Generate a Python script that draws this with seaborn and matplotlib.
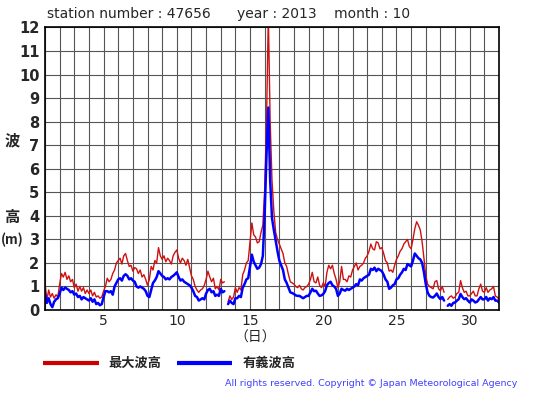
import numpy as np
import pandas as pd
import matplotlib
matplotlib.use("Agg")
import matplotlib.pyplot as plt
import seaborn as sns

nan = np.nan
# 3-hourly samples, 8 per day, day 1.0 .. 31.875, plus final point at 32.0
max_wave = [
    1.15, 0.40, 0.85, 0.55, 0.70, 0.50, 0.65, 0.55,   # 1
    1.10, 1.55, 1.40, 1.60, 1.30, 1.45, 1.20, 1.30,   # 2
    0.95, 1.10, 0.80, 1.00, 0.80, 0.95, 0.70, 0.85,   # 3
    0.70, 0.85, 0.60, 0.75, 0.55, 0.60, 0.50, 0.55,   # 4
    0.80, 1.00, 1.35, 1.20, 1.30, 1.55, 1.70, 2.00,   # 5
    2.10, 2.20, 1.95, 2.30, 2.40, 2.10, 1.85, 1.90,   # 6
    1.65, 1.80, 1.75, 1.55, 1.70, 1.40, 1.50, 1.30,   # 7
    1.05, 1.30, 1.85, 1.70, 2.10, 2.00, 2.65, 2.30,   # 8
    2.15, 2.30, 2.05, 2.20, 2.10, 1.95, 2.30, 2.45,   # 9
    2.55, 2.20, 2.00, 2.20, 2.10, 1.90, 2.15, 1.80,   # 10
    1.45, 1.30, 1.00, 0.85, 0.75, 0.85, 0.90, 1.05,   # 11
    1.30, 1.65, 1.40, 1.20, 1.35, 0.90, 1.00, 0.85,   # 12
    1.30, 1.15, 1.20, nan, 0.35, 0.60, 0.45, 0.55,    # 13
    0.95, 0.75, 0.95, 0.85, 1.50, 1.70, 2.00, 2.10,   # 14
    2.90, 3.70, 3.20, 3.10, 2.85, 2.90, 3.30, 3.60,   # 15
    5.10, 8.00, 12.5, 8.00, 5.50, 4.20, 3.30, 3.00,   # 16
    2.80, 2.60, 2.40, 2.00, 1.85, 1.50, 1.20, 1.15,   # 17
    1.10, 1.00, 0.95, 1.05, 0.90, 0.85, 0.95, 1.00,   # 18
    1.10, 1.30, 1.60, 1.20, 1.15, 1.40, 1.05, 0.95,   # 19
    1.15, 1.00, 1.60, 1.90, 1.75, 1.90, 1.55, 1.30,   # 20
    0.95, 1.20, 1.85, 1.30, 1.30, 1.20, 1.45, 1.40,   # 21
    1.70, 1.85, 2.00, 1.70, 1.85, 1.90, 2.00, 2.20,   # 22
    2.30, 2.50, 2.80, 2.60, 2.55, 2.90, 2.85, 2.60,   # 23
    2.65, 2.40, 2.10, 2.00, 1.65, 1.70, 1.60, 1.90,   # 24
    2.15, 2.30, 2.50, 2.60, 2.80, 2.90, 3.00, 2.70,   # 25
    2.60, 3.00, 3.45, 3.75, 3.60, 3.40, 2.90, 2.20,   # 26
    1.45, 1.10, 1.00, 0.95, 0.90, 1.20, 1.25, 0.90,   # 27
    0.82, 1.00, 0.75, nan, 0.45, 0.55, 0.60, 0.50,    # 28
    0.55, 0.70, 0.75, 1.25, 0.95, 0.75, 0.80, 0.60,   # 29
    0.60, 0.70, 0.80, 0.60, 0.60, 0.90, 1.10, 0.80,   # 30
    0.75, 0.95, 0.75, 0.85, 0.90, 1.00, 0.60, 0.55,   # 31
    0.45,
]
sig_wave = [
    0.72, 0.30, 0.50, 0.25, 0.12, 0.35, 0.45, 0.50,   # 1
    0.70, 0.95, 0.85, 0.95, 0.90, 0.85, 0.75, 0.80,   # 2
    0.65, 0.70, 0.55, 0.60, 0.45, 0.55, 0.50, 0.45,   # 3
    0.40, 0.50, 0.35, 0.45, 0.25, 0.30, 0.20, 0.25,   # 4
    0.55, 0.80, 0.80, 0.75, 0.80, 0.65, 1.00, 1.15,   # 5
    1.30, 1.35, 1.25, 1.45, 1.52, 1.45, 1.30, 1.35,   # 6
    1.25, 1.20, 1.00, 0.95, 1.00, 0.95, 0.90, 0.80,   # 7
    0.60, 0.55, 0.85, 1.15, 1.25, 1.40, 1.65, 1.55,   # 8
    1.45, 1.40, 1.30, 1.35, 1.30, 1.40, 1.45, 1.52,   # 9
    1.60, 1.40, 1.25, 1.30, 1.20, 1.15, 1.10, 1.05,   # 10
    0.95, 0.80, 0.60, 0.55, 0.40, 0.45, 0.50, 0.45,   # 11
    0.70, 0.85, 0.90, 0.75, 0.80, 0.60, 0.65, 0.60,   # 12
    0.90, 0.75, 0.80, nan, 0.25, 0.40, 0.30, 0.25,    # 13
    0.50, 0.50, 0.60, 0.55, 0.95, 1.10, 1.30, 1.35,   # 14
    1.85, 2.35, 2.05, 1.90, 1.75, 1.80, 1.95, 2.30,   # 15
    4.10, 6.60, 8.60, 5.50, 3.90, 3.40, 2.95, 2.50,   # 16
    2.10, 1.90, 1.70, 1.30, 1.15, 0.95, 0.75, 0.72,   # 17
    0.68, 0.62, 0.60, 0.60, 0.55, 0.50, 0.55, 0.60,   # 18
    0.60, 0.75, 0.90, 0.80, 0.82, 0.70, 0.60, 0.62,   # 19
    0.68, 0.80, 1.05, 1.15, 1.20, 1.05, 1.00, 0.90,   # 20
    0.60, 0.70, 0.90, 0.85, 0.82, 0.90, 0.85, 0.90,   # 21
    0.95, 1.00, 1.10, 1.05, 1.30, 1.25, 1.35, 1.40,   # 22
    1.45, 1.50, 1.75, 1.70, 1.80, 1.65, 1.75, 1.70,   # 23
    1.65, 1.50, 1.30, 1.20, 0.90, 0.95, 1.05, 1.10,   # 24
    1.30, 1.35, 1.50, 1.60, 1.75, 1.70, 1.95, 1.90,   # 25
    1.85, 2.10, 2.40, 2.30, 2.20, 2.15, 2.00, 1.60,   # 26
    1.10, 0.75, 0.60, 0.55, 0.53, 0.60, 0.70, 0.55,   # 27
    0.46, 0.55, 0.40, nan, 0.18, 0.25, 0.18, 0.30,    # 28
    0.32, 0.40, 0.46, 0.68, 0.55, 0.46, 0.50, 0.40,   # 29
    0.32, 0.45, 0.40, 0.32, 0.35, 0.45, 0.55, 0.45,   # 30
    0.46, 0.55, 0.40, 0.50, 0.46, 0.55, 0.40, 0.40,   # 31
    0.32,
]
x_ticks = [5, 10, 15, 20, 25, 30]
y_ticks = list(range(0, 13))
title_text = "station number : 47656      year : 2013    month : 10"
legend_labels = ["最大波高", "有義波高"]

days = 1 + np.arange(len(max_wave)) / 8.0

def make_df(vals):
    v = np.array(vals, dtype=float)
    seg = np.cumsum(np.isnan(v))
    df = pd.DataFrame({"day": days, "h": v, "seg": seg})
    return df.dropna()

sns.set_theme(style="white")
plt.rcParams['font.family'] = ['DejaVu Sans']

fig = plt.figure(figsize=(5.55, 3.95), dpi=100)
ax = fig.add_axes([45/555, 1-310/395, 454/555, 282.5/395])

sns.lineplot(data=make_df(max_wave), x="day", y="h", units="seg", estimator=None,
             color="#d01010", lw=1.0, ax=ax)
sns.lineplot(data=make_df(sig_wave), x="day", y="h", units="seg", estimator=None,
             color="#0000ff", lw=1.8, ax=ax)

ax.set_xlim(1, 32)
ax.set_ylim(0, 12)
ax.set_xticks(np.arange(1, 33), minor=True)
ax.set_xticks(x_ticks)
ax.set_yticks(y_ticks)
ax.grid(True, which="both", axis="x", color="#555555", lw=0.8)
ax.grid(True, which="major", axis="y", color="#555555", lw=0.8)
ax.set_axisbelow(True)
ax.tick_params(axis="both", which="both", length=0)
ax.tick_params(axis="x", pad=3, labelsize=10)
ax.tick_params(axis="y", pad=4, labelsize=10.5)
for lab in ax.get_yticklabels():
    lab.set_fontweight("bold")
ax.set_xlabel("")
ax.set_ylabel("")
for s in ax.spines.values():
    s.set_color("black")
    s.set_linewidth(1.2)

fig.text(47/555, 1-14/395, title_text, fontsize=10, va="center", ha="left")

jp = ['Noto Sans CJK JP', 'DejaVu Sans']
fig.text(12/555, 1-140/395, "波", fontsize=11, fontweight="bold", family=jp, ha="center", va="center")
fig.text(12/555, 1-217/395, "高", fontsize=11, fontweight="bold", family=jp, ha="center", va="center")
fig.text(12/555, 1-240/395, "(m)", fontsize=9.5, fontweight="bold", family=jp, ha="center", va="center")
fig.text(255/555, 1-338/395, "（日）", fontsize=10, family=jp, ha="center", va="center")

# legend
fig.add_artist(plt.Line2D([43/555, 99/555], [1-363/395]*2, color="#cc0000", lw=3,
                          solid_capstyle="butt", transform=fig.transFigure))
fig.text(108/555, 1-363/395, legend_labels[0], fontsize=9.5, fontweight="bold", family=jp, va="center", ha="left")
fig.add_artist(plt.Line2D([177/555, 232/555], [1-363/395]*2, color="#0000ff", lw=3,
                          solid_capstyle="butt", transform=fig.transFigure))
fig.text(243/555, 1-363/395, legend_labels[1], fontsize=9.5, fontweight="bold", family=jp, va="center", ha="left")

fig.text(517/555, 1-384/395, "All rights reserved. Copyright © Japan Meteorological Agency",
         fontsize=6.8, color="#4040ff", ha="right", va="center")

fig.savefig("out.png", dpi=100)
